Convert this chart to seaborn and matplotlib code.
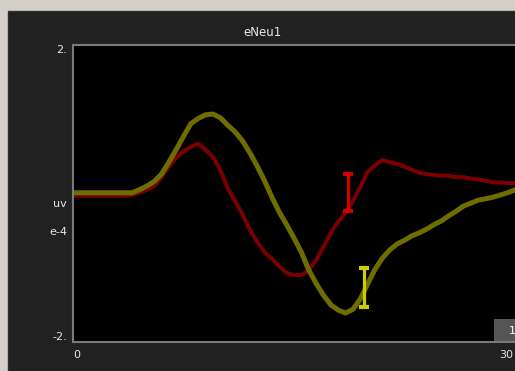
import matplotlib.pyplot as plt
import matplotlib.patches as mpatches
import pandas as pd
import seaborn as sns

# averaged waveforms, sampled every half time unit (0..30)
time = [i * 0.5 for i in range(61)]
red_uv = [-0.03, -0.03, -0.03, -0.03, -0.03, -0.03, -0.03, -0.03,
          -0.02, 0.01, 0.05, 0.10, 0.22, 0.36, 0.48, 0.57, 0.63, 0.67,
          0.59, 0.49, 0.32, 0.07, -0.10, -0.28, -0.49, -0.65, -0.79, -0.88,
          -0.98, -1.07, -1.10, -1.10, -1.03, -0.90, -0.72, -0.53, -0.38, -0.26,
          -0.10, 0.09, 0.29, 0.38, 0.45, 0.42, 0.40, 0.36, 0.32, 0.28,
          0.26, 0.25, 0.24, 0.24, 0.22, 0.22, 0.20, 0.19, 0.17, 0.15,
          0.15, 0.14, 0.14]
olive_uv = [0.01, 0.01, 0.01, 0.01, 0.01, 0.01, 0.01, 0.01,
            0.01, 0.05, 0.10, 0.16, 0.26, 0.42, 0.59, 0.77, 0.94, 1.01,
            1.06, 1.07, 1.02, 0.92, 0.83, 0.71, 0.55, 0.37, 0.17, -0.05,
            -0.25, -0.42, -0.60, -0.79, -1.03, -1.21, -1.37, -1.50, -1.57, -1.61,
            -1.56, -1.42, -1.22, -1.02, -0.87, -0.76, -0.68, -0.63, -0.57, -0.53,
            -0.48, -0.42, -0.37, -0.30, -0.24, -0.17, -0.13, -0.09, -0.07, -0.05,
            -0.02, 0.01, 0.05]

# error bars: position, low, high
err_x = [18.67, 19.75]
err_lo = [-0.24, -1.53]
err_hi = [0.26, -1.00]
err_colors = ["#d00000", "#cccc00"]

y_ticks = [2, -2]
y_tick_labels = ["2.", "-2."]
x_ticks = [0, 30]
x_tick_labels = ["0", "30"]

df = pd.DataFrame({
    "time": time * 2,
    "uv": red_uv + olive_uv,
    "series": ["red"] * len(time) + ["olive"] * len(time),
})

sns.set_theme(style="dark")
plt.rcParams["font.family"] = ["DejaVu Sans"]

W, H = 515, 371
fig = plt.figure(figsize=(W / 100, H / 100), dpi=100, facecolor="#d4d0c8")
fig.patches.append(mpatches.Rectangle((8 / W, 0), 1, 1 - 11 / H, transform=fig.transFigure,
                                      facecolor="#212121", edgecolor="#2e2e2e", lw=1, zorder=-1))

ax = fig.add_axes([73 / W, 29 / H, 442 / W, 297 / H])
ax.set_facecolor("black")

sns.lineplot(data=df, x="time", y="uv", hue="series", hue_order=["red", "olive"],
             palette={"red": "#7a0000", "olive": "#6e6e00"},
             size="series", sizes={"red": 2.9, "olive": 3.6},
             legend=False, ax=ax)

for x, lo, hi, c in zip(err_x, err_lo, err_hi, err_colors):
    mid = (lo + hi) / 2
    ax.errorbar([x], [mid], yerr=[[mid - lo], [hi - mid]], fmt="none", ecolor=c,
                elinewidth=2.3, capsize=3.5, capthick=3.0, zorder=5)

ax.set_xlim(0, 30)
ax.set_ylim(-2, 2)
ax.grid(False)
ax.set_xlabel("")
ax.set_ylabel("")
for s in ax.spines.values():
    s.set_visible(True)
    s.set_color("#7a7a7a")
    s.set_linewidth(1.5)
ax.spines["right"].set_visible(False)

txt = "#e8e8e8"
ax.set_yticks(y_ticks, y_tick_labels)
ax.tick_params(axis="y", length=0, colors=txt, labelsize=8, pad=4.3)
ylab = ax.get_yticklabels()
ylab[0].set_va("top")
ylab[1].set_va("bottom")

# x labels: first one starts at the left edge, last one ends at the right edge
ax.set_xticks([])
for tk, lab, ha, dx in zip(x_ticks, x_tick_labels, ["left", "right"], [0, -1]):
    ax.annotate(lab, xy=(tk, -2), xytext=(dx, -6), textcoords="offset points",
                ha=ha, va="top", color=txt, fontsize=8, annotation_clip=False)

fig.text(67 / W, 1 - 204 / H, "uv", ha="right", va="center", color=txt, fontsize=8)
fig.text(67 / W, 1 - 232 / H, "e-4", ha="right", va="center", color=txt, fontsize=8)
fig.text(262 / W, 1 - 32 / H, "eNeu1", ha="center", va="center", color=txt, fontsize=8.5)

# small gray button in the corner
fig.patches.append(mpatches.Rectangle((494 / W, 30 / H), 30 / W, 22 / H, transform=fig.transFigure,
                                      facecolor="#555555", edgecolor="none", zorder=2))
fig.text(509 / W, 1 - 331 / H, "1", ha="left", va="center", color="white", fontsize=8, zorder=3)

fig.savefig("out.png", dpi=100, facecolor=fig.get_facecolor())
